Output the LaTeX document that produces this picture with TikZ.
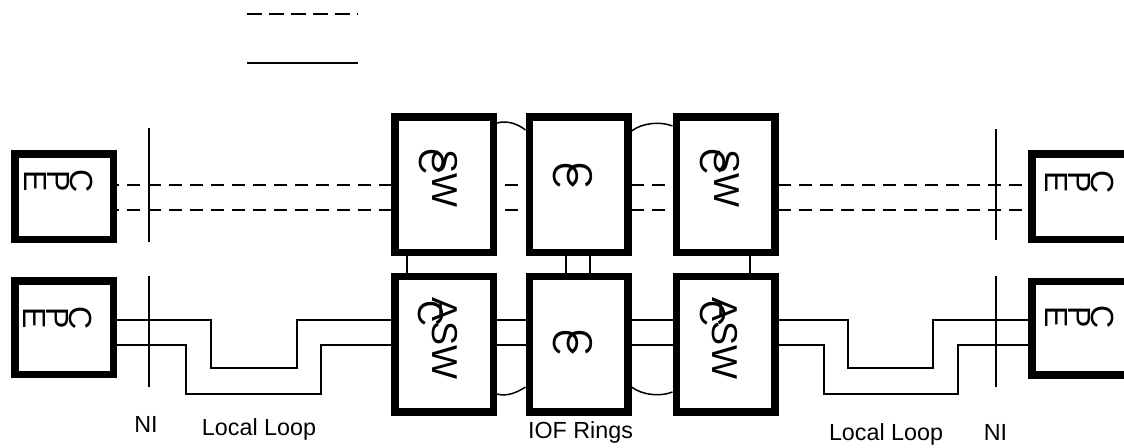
\documentclass[tikz,border=0pt]{standalone}
\usepackage{fontspec}
\setmainfont{Liberation Sans}
\usepackage{tikz}
\usetikzlibrary{backgrounds}
\tikzstyle{unit} = [draw=black, line width=3.75pt, fill=white, minimum width=49.25pt, minimum height=67.75pt, inner sep=0pt]
\tikzstyle{cpe} = [draw=black, line width=3.75pt, fill=white, minimum width=49.25pt, inner sep=0pt]
\tikzstyle{rotlabel} = [rotate=-90, inner sep=0pt, font=\fontsize{18}{20}\selectfont]
\tikzstyle{cpelabel} = [rotate=-90, inner sep=0pt]
\tikzstyle{caption} = [anchor=base, inner sep=0pt, font=\fontsize{11.65}{14}\selectfont]
\tikzstyle{link} = [black, line width=0.75pt]
\tikzstyle{trunk} = [black, line width=0.7pt, dash pattern=on 6.5pt off 4pt]
\tikzstyle{legenddash} = [black, line width=1.1pt, dash pattern=on 7.5pt off 3.5pt]
\tikzstyle{legendline} = [black, line width=1.1pt]
\newcommand{\cpetext}{\fontsize{16}{11.5}\selectfont\lineskiplimit=-100pt\vbox{\halign{\hfil##\hfil\cr C\cr P\cr E\cr}}}

\begin{document}
\begin{tikzpicture}[x=0.5pt,y=-0.5pt]
\useasboundingbox (0,0) rectangle (1124,447);

% legend
\coordinate (lg1) at (247,14);
\coordinate (lg2) at (358,14);
\coordinate (lg3) at (247,63);
\coordinate (lg4) at (358,63);
\draw[legenddash] (lg1) -- (lg2);
\draw[legendline] (lg3) -- (lg4);

% customer premises
\node[cpe, minimum height=42.75pt] (cpe1) at (64,196.5) {};
\node[cpe, minimum height=46.75pt] (cpe3) at (64,327.5) {};
\node[cpe, minimum height=42.75pt] (cpe2) at (1081,196.5) {};
\node[cpe, minimum height=46.75pt] (cpe4) at (1081,328) {};

% switches
\node[unit] (sw1) at (444,184.5) {};
\node[unit] (c1) at (578.5,184.5) {};
\node[unit] (sw2) at (725.5,184.5) {};
\node[unit] (asw1) at (444,344) {};
\node[unit] (c2) at (578.5,344) {};
\node[unit] (asw2) at (725.5,344) {};

% box texts
\node[cpelabel] (t1) at (58.5,181.5) {\cpetext};
\node[cpelabel] (t2) at (1080,182.5) {\cpetext};
\node[cpelabel] (t3) at (57.5,318.5) {\cpetext};
\node[cpelabel] (t4) at (1080,317) {\cpetext};
\node[rotlabel] (t5) at (444.5,178.5) {SW};
\node[rotlabel] (t5x) at (432,161) {C};
\node[rotlabel] (t6) at (580,175) {C};
\node[rotlabel] (t6x) at (566,175) {C};
\node[rotlabel] (t7) at (726.5,178.5) {SW};
\node[rotlabel] (t7x) at (713,161) {C};
\node[rotlabel] (t8) at (444.5,338.5) {ASW};
\node[rotlabel] (t8x) at (431,313) {C};
\node[rotlabel] (t9) at (580,342) {C};
\node[rotlabel] (t9x) at (566,342) {C};
\node[rotlabel] (t10) at (725,338.5) {ASW};
\node[rotlabel] (t10x) at (713,313) {C};

% captions
\node[caption] (ni1) at (146,432) {NI};
\node[caption] (ll1) at (259,435) {Local Loop};
\node[caption] (iof) at (580.5,438) {IOF Rings};
\node[caption] (ll2) at (886,440) {Local Loop};
\node[caption] (ni2) at (995.5,440) {NI};

\begin{scope}[on background layer]
% network interface
\coordinate (n1) at (149,128);
\coordinate (n2) at (149,242);
\coordinate (n3) at (149,276);
\coordinate (n4) at (149,387);
\coordinate (n5) at (996,129);
\coordinate (n6) at (996,240);
\coordinate (n7) at (996,276);
\coordinate (n8) at (996,387);
\draw[link] (n1) -- (n2);
\draw[link] (n3) -- (n4);
\draw[link] (n5) -- (n6);
\draw[link] (n7) -- (n8);

% trunks
\draw[trunk] (cpe1 |- 0,185) -- (cpe2 |- 0,185);
\draw[trunk] (cpe1 |- 0,210) -- (cpe2 |- 0,210);

% local loops
\draw[link] (cpe3 |- 0,320) -- (211,320) -- (211,368) -- (297,368) -- (297,320)
  -- (848,320) -- (848,368) -- (933,368) -- (933,320) -- (cpe4 |- 0,320);
\draw[link] (cpe3 |- 0,345) -- (186,345) -- (186,394) -- (321,394) -- (321,345)
  -- (824,345) -- (824,394) -- (958,394) -- (958,345) -- (cpe4 |- 0,345);

% links between rows
\draw[link] (sw1.south -| 407,0) -- (asw1.north -| 407,0);
\draw[link] (c1.south -| 566,0) -- (c2.north -| 566,0);
\draw[link] (c1.south -| 590,0) -- (c2.north -| 590,0);
\draw[link] (sw2.south -| 750,0) -- (asw2.north -| 750,0);

% rings
\draw[link] (sw1.east |- 0,123) .. controls (507,120) and (518,124) .. (c1.west |- 0,130);
\draw[link] (c1.east |- 0,131) .. controls (642,123) and (660,121) .. (sw2.west |- 0,126);
\draw[link] (asw1.east |- 0,394) .. controls (507,397) and (518,392) .. (c2.west |- 0,387);
\draw[link] (c2.east |- 0,387) .. controls (642,395) and (660,397) .. (asw2.west |- 0,392);
\end{scope}

\end{tikzpicture}
\end{document}
